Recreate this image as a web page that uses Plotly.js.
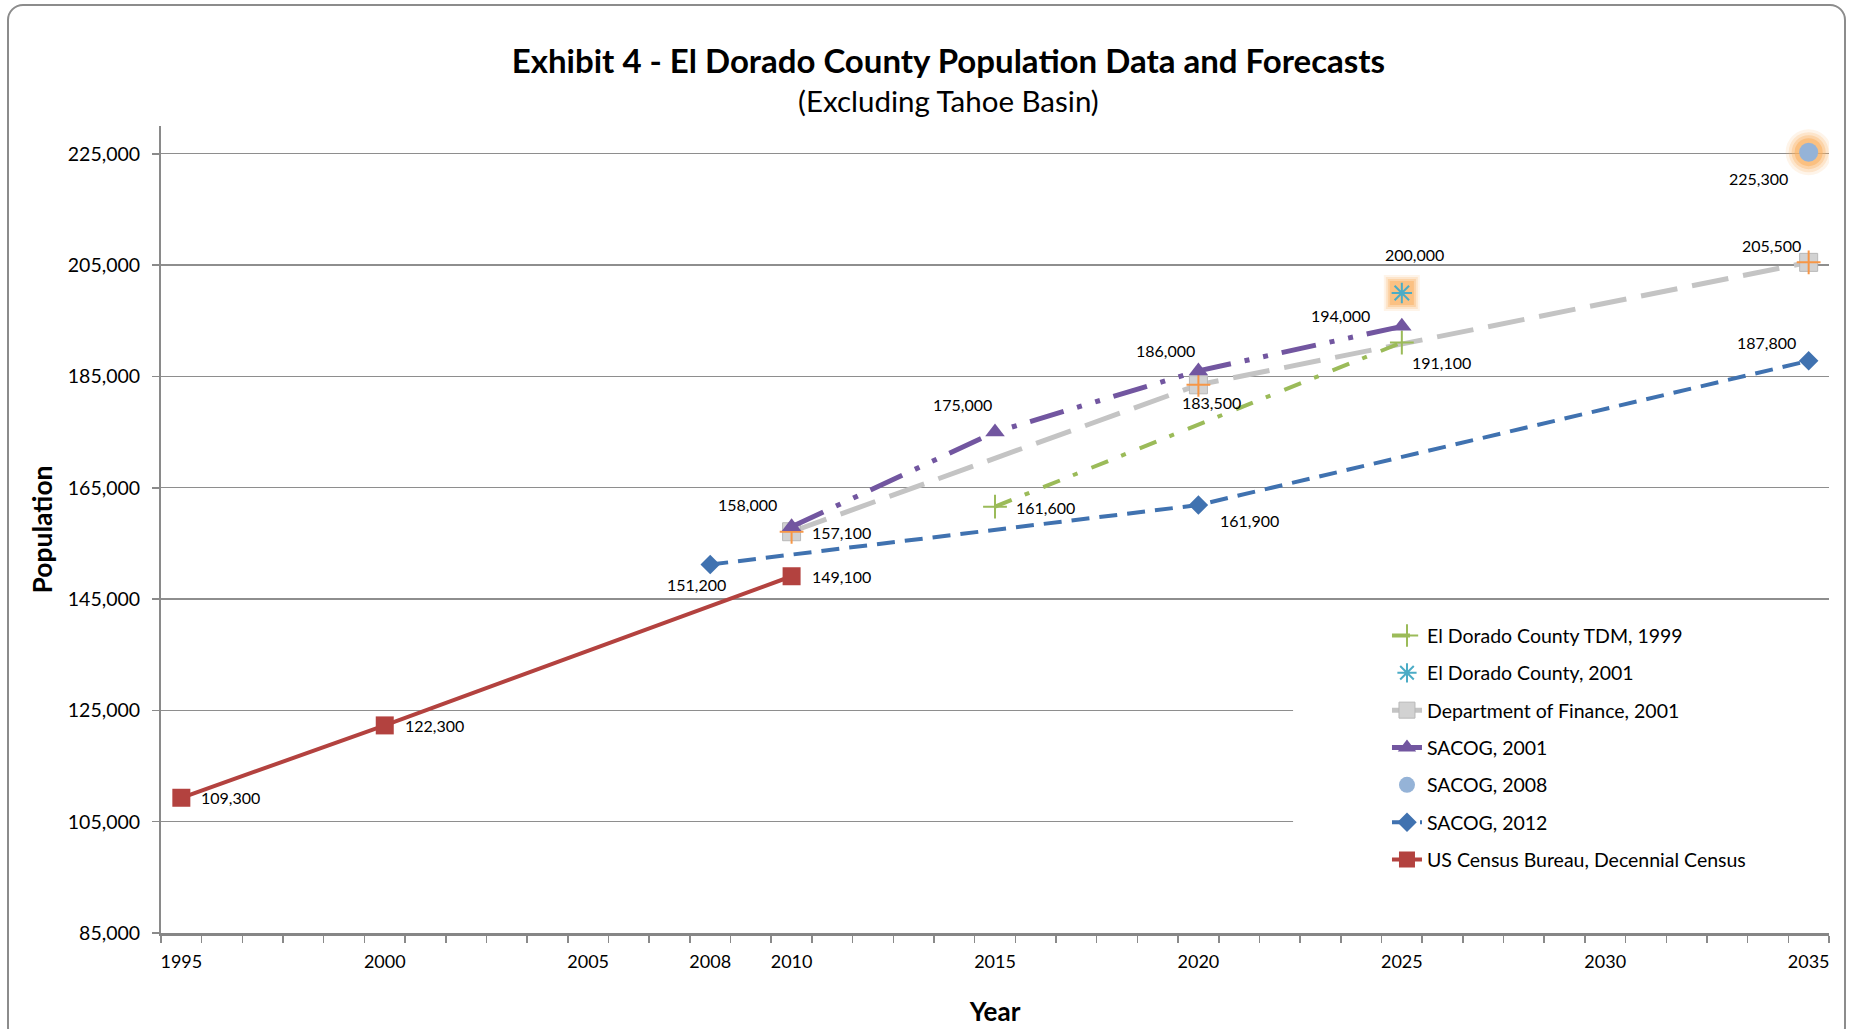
<!DOCTYPE html>
<html><head><meta charset="utf-8">
<script src="https://cdn.plot.ly/plotly-3.0.1.min.js"></script>
<style>
html,body{margin:0;padding:0;background:#fff;overflow:hidden}
#chart{width:1851px;height:1029px}
#frame{position:absolute;left:7px;top:4px;width:1839px;height:1040px;border:2px solid #8c8c8c;border-radius:16px;pointer-events:none;box-sizing:border-box}
</style></head>
<body><div id="chart"></div><div id="frame"></div>
<script>
// ---- data ----
const tdmYears = [2015, 2025];
const tdmValues = [161600, 191100];
const edc2001Years = [2025];
const edc2001Values = [200000];
const dofYears = [2010, 2020, 2035];
const dofValues = [157100, 183500, 205500];
const sacog2001Years = [2010, 2015, 2020, 2025];
const sacog2001Values = [158000, 175000, 186000, 194000];
const sacog2008Years = [2035];
const sacog2008Values = [225300];
const sacog2012Years = [2008, 2020, 2035];
const sacog2012Values = [151200, 161900, 187800];
const censusYears = [1995, 2000, 2010];
const censusValues = [109300, 122300, 149100];
const xTickYears = [1995, 2000, 2005, 2008, 2010, 2015, 2020, 2025, 2030, 2035];
const yTickValues = [85000, 105000, 125000, 145000, 165000, 185000, 205000, 225000];

const FONT = 'Lato, "Open Sans", sans-serif';
const fmt = v => v.toLocaleString('en-US');

// ---- label offsets (screen px: dx right, dy down) ----
const labelOffsets = {
  census: [[49,0],[50,0],[50,0]],
  sacog2012: [[-14,20],[51,15],[-42,-18]],
  sacog2008: [[-50,26]],
  sacog2001: [[-44,-22],[-33,-28],[-33,-20],[-61,-11]],
  dof: [[50,1],[13,18],[-37,-17]],
  edc2001: [[13,-38]],
  tdm: [[50,1],[40,20]]
};

const GLOW = 'rgb(250,176,96)';
const traces = [];
[[46,0.14],[40,0.22],[34,0.34],[28,0.55]].forEach(([s,o]) => {
  traces.push({x: sacog2008Years, y: sacog2008Values, mode:'markers', showlegend:false, hoverinfo:'skip',
    marker:{symbol:'circle', size:s, color:GLOW, opacity:o, line:{width:0}}});
});
[[36,0.14],[32,0.22],[28,0.34],[24,0.5]].forEach(([s,o]) => {
  traces.push({x: edc2001Years, y: edc2001Values, mode:'markers', showlegend:false, hoverinfo:'skip',
    marker:{symbol:'square', size:s, color:GLOW, opacity:o, line:{width:0}}});
});

traces.push({name:'US Census Bureau, Decennial Census', x: censusYears, y: censusValues, mode:'lines+markers',
  legendrank:7, legendgroup:'g7',
  line:{color:'#b3423f', width:4}, marker:{symbol:'square', size:18, color:'#b3423f'}});
traces.push({name:'SACOG, 2012', x: sacog2012Years, y: sacog2012Values, mode:'lines+markers',
  legendrank:6, legendgroup:'g6',
  line:{color:'#4072b0', width:4, dash:'18px,10px'}, marker:{symbol:'diamond', size:15, color:'#4072b0'}});
traces.push({name:'Department of Finance, 2001', x: dofYears, y: dofValues, mode:'lines+markers',
  legendrank:3, legendgroup:'g3',
  line:{color:'#c4c4c4', width:5, dash:'37px,15px'}, marker:{symbol:'square', size:18, color:'#d2d2d2', line:{color:'#b8b8b8', width:1}}});
traces.push({name:'Department of Finance, 2001', x: dofYears, y: dofValues, mode:'markers', showlegend:false, hoverinfo:'skip',
  legendgroup:'g3', marker:{symbol:'cross-thin-open', size:17, color:'#f79646', line:{color:'#f79646', width:2}}});
traces.push({name:'El Dorado County TDM, 1999', x: tdmYears, y: tdmValues, mode:'lines+markers',
  legendrank:1, legendgroup:'g1',
  line:{color:'#9bbb59', width:4, dash:'18px,14px,5px,15px'}, marker:{symbol:'cross-thin-open', size:17, color:'#9bbb59', line:{color:'#9bbb59', width:2}}});
traces.push({name:'SACOG, 2001', x: sacog2001Years, y: sacog2001Values, mode:'lines+markers',
  legendrank:4, legendgroup:'g4',
  line:{color:'#7256a0', width:5, dash:'35px,14px,5px,14px,5px,14px'}, marker:{symbol:'triangle-up', size:17, color:'#7256a0'}});
traces.push({name:'SACOG, 2008', x: sacog2008Years, y: sacog2008Values, mode:'markers',
  legendrank:5, legendgroup:'g5',
  marker:{symbol:'circle', size:19, color:'#95b3d7'}});
traces.push({name:'El Dorado County, 2001', x: edc2001Years, y: edc2001Values, mode:'markers',
  legendrank:2, legendgroup:'g2',
  marker:{symbol:'asterisk-open', size:17, color:'#4bacc6', line:{color:'#4bacc6', width:2}}});

// ---- data labels ----
const annotations = [];
function addLabels(xs, ys, offs) {
  xs.forEach((x, i) => {
    annotations.push({x: x, y: ys[i], xref:'x', yref:'y', text: fmt(ys[i]), showarrow:false,
      xanchor:'center', yanchor:'middle', xshift: offs[i][0], yshift: -offs[i][1],
      font:{family:FONT, size:16, color:'#000'}});
  });
}
addLabels(censusYears, censusValues, labelOffsets.census);
addLabels(sacog2012Years, sacog2012Values, labelOffsets.sacog2012);
addLabels(sacog2008Years, sacog2008Values, labelOffsets.sacog2008);
addLabels(sacog2001Years, sacog2001Values, labelOffsets.sacog2001);
addLabels(dofYears, dofValues, labelOffsets.dof);
addLabels(edc2001Years, edc2001Values, labelOffsets.edc2001);
addLabels(tdmYears, tdmValues, labelOffsets.tdm);

annotations.push({text:'(Excluding Tahoe Basin)', xref:'paper', yref:'paper', x:0.4721, y:1.0310,
  xanchor:'center', yanchor:'middle', showarrow:false, font:{family:FONT, size:29.5, color:'#000'}});

const layout = {
  width:1851, height:1029,
  margin:{l:161, r:22, t:126, b:96},
  paper_bgcolor:'#fff', plot_bgcolor:'#fff',
  font:{family:FONT, color:'#000'},
  title:{text:'<b>Exhibit 4 - El Dorado County Population Data and Forecasts</b>',
    font:{family:FONT, size:33, color:'#000'}, xref:'container', x:0.5124, xanchor:'center',
    yref:'container', y:0.9407, yanchor:'middle'},
  xaxis:{range:[1994.5, 2035.5], tickmode:'array', tickvals:xTickYears, ticktext:xTickYears.map(String),
    ticks:'outside', ticklen:10, tickcolor:'rgba(0,0,0,0)', showgrid:false, zeroline:false, showline:true, linecolor:'#868686', linewidth:3,
    tickfont:{family:FONT, size:18, color:'#000'},
    minor:{tickmode:'linear', tick0:1994.5, dtick:1, ticks:'outside', ticklen:7, tickcolor:'#8a8a8a', tickwidth:1.5, showgrid:false},
    title:{text:'<b>Year</b>', font:{family:FONT, size:26, color:'#000'}, standoff:33}, automargin:false},
  xaxis2:{range:[1994.5, 2035.5], overlaying:'x', anchor:'y', side:'bottom', tickmode:'linear', tick0:1994.5, dtick:1,
    ticks:'inside', ticklen:7, tickcolor:'#8a8a8a', tickwidth:1.5, showticklabels:false, showgrid:false, zeroline:false, showline:false},
  yaxis:{range:[85000, 230000], tickmode:'array', tickvals:yTickValues, tickformat:',',
    showgrid:true, gridcolor:'#8e8e8e', gridwidth:1.3, zeroline:false, showline:true, linecolor:'#8a8a8a', linewidth:2,
    ticks:'outside', ticklen:7, tickcolor:'#8a8a8a', tickwidth:1.5, ticklabelstandoff:8,
    tickfont:{family:FONT, size:19.5, color:'#000'},
    title:{text:'<b>Population</b>', font:{family:FONT, size:26.5, color:'#000'}, standoff:8}, automargin:false},
  legend:{x:0.735, y:0.3925, xanchor:'left', yanchor:'top', bgcolor:'rgba(0,0,0,0)',
    font:{family:FONT, size:19.5, color:'#000'}, traceorder:'grouped', tracegroupgap:9},
  shapes:[{type:'rect', xref:'paper', yref:'paper', x0:0.6787, x1:1, y0:0.06, y1:0.402,
    fillcolor:'#fff', line:{width:0}, layer:'above'}],
  annotations: annotations,
  showlegend:true
};

Plotly.newPlot('chart', traces, layout, {staticPlot:true, displayModeBar:false});
</script>
</body></html>
